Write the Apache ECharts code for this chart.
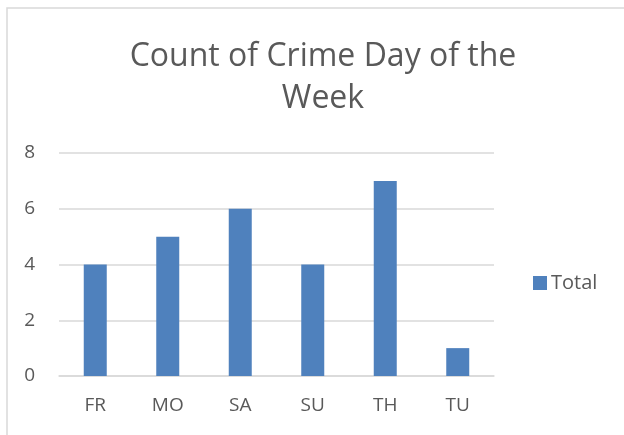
<!DOCTYPE html>
<html>
<head>
<meta charset="utf-8">
<script src="https://cdn.jsdelivr.net/npm/echarts@6/dist/echarts.min.js"></script>
<style>
  html, body { margin: 0; padding: 0; background: #fff; }
  #chart { width: 624px; height: 435px; }
</style>
</head>
<body>
<div id="chart"></div>
<script>
var days = ['FR', 'MO', 'SA', 'SU', 'TH', 'TU'];
var totals = [4, 5, 6, 4, 7, 1];

var myChart = echarts.init(document.getElementById('chart'));

var option = {
  animation: false,
  backgroundColor: '#fff',
  textStyle: { fontFamily: 'Open Sans' },
  graphic: [{
    type: 'rect',
    shape: { x: 7, y: 8, width: 700, height: 500 },
    style: { fill: 'none', stroke: '#d9d9d9', lineWidth: 1.5 },
    silent: true
  }],
  title: {
    text: 'Count of Crime Day of the\nWeek',
    left: 318,
    top: 31,
    textAlign: 'center',
    textStyle: {
      fontFamily: 'Open Sans',
      fontSize: 32,
      fontWeight: 'normal',
      color: '#595959',
      lineHeight: 42
    }
  },
  legend: {
    data: ['Total'],
    left: 528,
    top: 268,
    itemWidth: 14,
    itemHeight: 14,
    itemGap: 6,
    icon: 'rect',
    textStyle: { fontSize: 20, color: '#595959', padding: [0, 0, 0, -1] }
  },
  grid: { left: 59, right: 130, top: 153, bottom: 59 },
  xAxis: {
    type: 'category',
    data: days,
    axisLine: { lineStyle: { color: '#d9d9d9', width: 1.5 } },
    axisTick: { show: false },
    axisLabel: { color: '#595959', fontSize: 19, margin: 20 }
  },
  yAxis: {
    type: 'value',
    min: 0,
    max: 8,
    interval: 2,
    axisLine: { show: false },
    axisTick: { show: false },
    axisLabel: { color: '#595959', fontSize: 19, margin: 24 },
    splitLine: { lineStyle: { color: '#d9d9d9', width: 1.5 } }
  },
  series: [{
    name: 'Total',
    type: 'bar',
    data: totals,
    barWidth: 23,
    itemStyle: { color: '#4f81bd' }
  }]
};

myChart.setOption(option);
</script>
</body>
</html>
